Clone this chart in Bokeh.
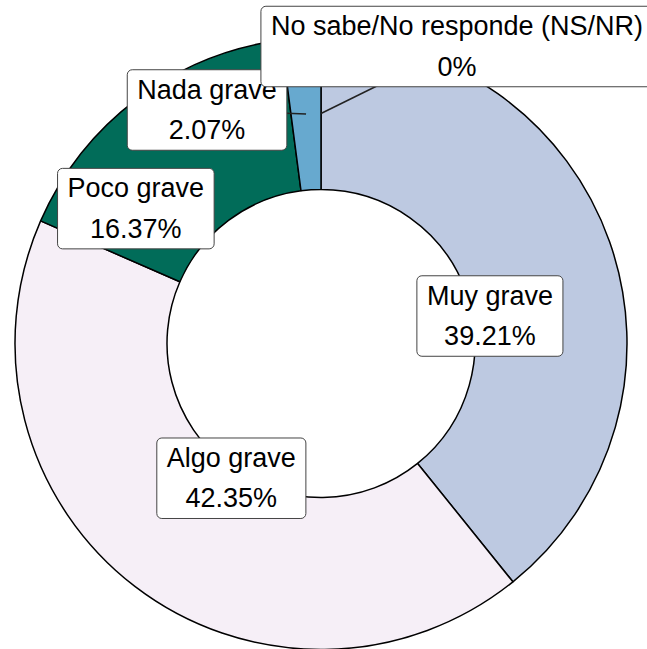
import math
from bokeh.plotting import figure
from bokeh.models import Range1d, Label, ColumnDataSource
from bokeh.embed import file_html
from bokeh.resources import INLINE

# ---- data ----
categories = ["Muy grave", "Algo grave", "Poco grave", "Nada grave",
              "No sabe/No responde (NS/NR)"]
values = [39.21, 42.35, 16.37, 2.07, 0.0]
value_labels = ["39.21%", "42.35%", "16.37%", "2.07%", "0%"]

# ---- style / layout ----
colors = ["#bdc9e1", "#f6eff7", "#016c59", "#67a9cf", "#1c9099"]
nudges = [(-48, -49), (50, 48), (-47, -49), (-99, 4), (136, 67)]  # label offsets (px)
W, H = 647, 649
CX, CY = 320.5, 343.0          # donut centre in page pixels
R_OUT, R_IN = 306, 154
R_LAB = (R_OUT + R_IN) / 2

p = figure(width=W, height=H, output_backend="svg", toolbar_location=None,
           x_range=Range1d(-CX, W - CX),
           y_range=Range1d(CY - H, CY),
           min_border=0)
p.axis.visible = False
p.grid.visible = False
p.outline_line_color = None
p.background_fill_color = "white"

total = sum(values)
cum = [0.0]
for v in values:
    cum.append(cum[-1] + v / total)

starts, ends, fills = [], [], []
for i, v in enumerate(values):
    if v <= 0:
        continue
    starts.append(math.pi / 2 - 2 * math.pi * cum[i])
    ends.append(math.pi / 2 - 2 * math.pi * cum[i + 1])
    fills.append(colors[i])

src = ColumnDataSource(dict(x=[0] * len(starts), y=[0] * len(starts),
                            start=starts, end=ends, fill=fills))
p.annular_wedge(x="x", y="y", inner_radius=R_IN, outer_radius=R_OUT,
                start_angle="start", end_angle="end", direction="clock",
                fill_color="fill", line_color="black", line_width=1.5,
                source=src)

for i, cat in enumerate(categories):
    mid = cum[i] + (cum[i + 1] - cum[i]) / 2
    th = 2 * math.pi * mid
    ax, ay = R_LAB * math.sin(th), R_LAB * math.cos(th)
    dx, dy = nudges[i]
    if math.hypot(dx, dy) > 80:
        p.segment(x0=[ax], y0=[ay], x1=[ax + dx], y1=[ay + dy],
                  line_color="#222222", line_width=1.5)
    p.add_layout(Label(x=ax, y=ay, x_offset=dx, y_offset=dy,
                       text=f"{cat}\n{value_labels[i]}",
                       text_align="center", text_baseline="middle",
                       text_font="Liberation Sans", text_font_size="27px",
                       text_line_height=1.35, text_color="black",
                       background_fill_color="white",
                       border_line_color="#444444", border_line_width=1,
                       border_radius=5,
                       padding=dict(left=10, right=10, top=5, bottom=5)))

open("out.html", "w").write(file_html(p, INLINE))
